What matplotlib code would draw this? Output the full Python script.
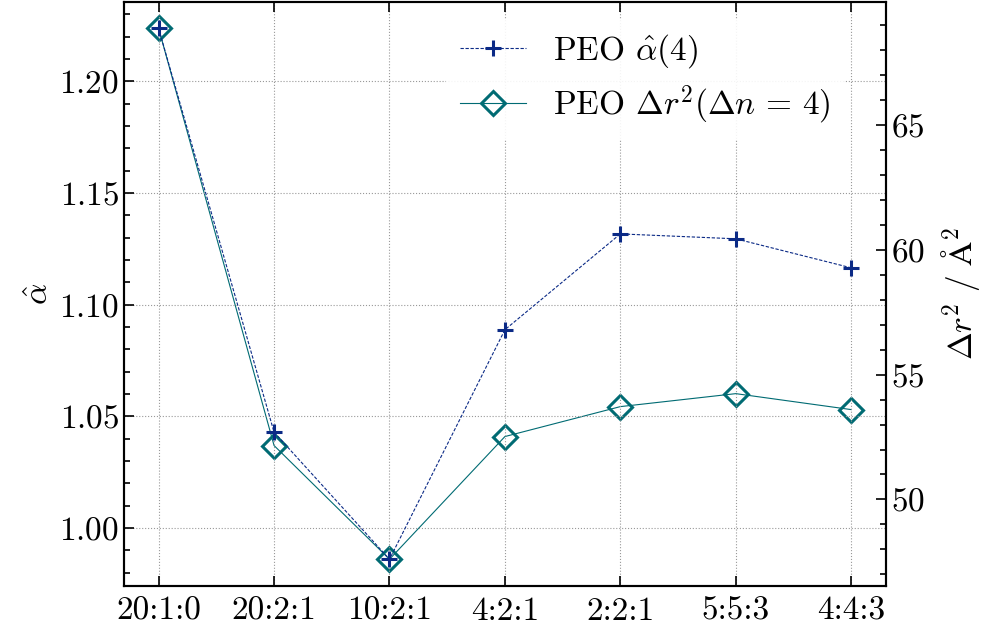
import numpy as np
import matplotlib
matplotlib.use("Agg")
import matplotlib.pyplot as plt

plt.rcParams["font.family"] = "serif"
plt.rcParams["font.serif"] = ["cmr10"]
plt.rcParams["mathtext.fontset"] = "cm"
plt.rcParams["axes.formatter.use_mathtext"] = True
plt.rcParams["axes.unicode_minus"] = False

# data
ratios = ["20:1:0", "20:2:1", "10:2:1", "4:2:1", "2:2:1", "5:5:3", "4:4:3"]
alpha_hat = [1.2237, 1.0429, 0.986, 1.0888, 1.1317, 1.1295, 1.1165]
delta_r2 = [68.88, 52.16, 47.6, 52.52, 53.72, 54.24, 53.6]

c_alpha = "#0b2a86"
c_r2 = "#006b73"
fs = 24

fig, ax1 = plt.subplots(figsize=(9.92, 6.34), dpi=100)
fig.subplots_adjust(left=0.125, right=0.893, top=0.997, bottom=0.076)
ax2 = ax1.twinx()

x = np.arange(len(ratios))
l2, = ax2.plot(x, delta_r2, color=c_r2, lw=0.8, ls="-", marker="D", ms=12,
               mfc="none", mec=c_r2, mew=2.2,
               label=r"PEO $\Delta r^2(\Delta n\,=\,4)$")
l1, = ax1.plot(x, alpha_hat, color=c_alpha, lw=0.8, ls="--", dashes=(3, 1.5),
               marker="+", ms=12, mew=2.2, label=r"PEO $\hat{\alpha}(4)$")

ax1.set_zorder(ax2.get_zorder() + 1)
ax1.patch.set_visible(False)

ax1.set_xticks(x)
ax1.set_xticklabels(ratios)
ax1.set_xlim(-0.3, 6.3)
ax1.set_yticks([1.00, 1.05, 1.10, 1.15, 1.20])
ax1.yaxis.set_minor_locator(plt.MultipleLocator(0.01))
ax2.set_yticks([50, 55, 60, 65])
ax2.yaxis.set_minor_locator(plt.MultipleLocator(1))

ax1.tick_params(axis="both", which="both", direction="in", labelsize=fs,
                top=True, right=False, width=1.2)
ax1.tick_params(which="major", length=7)
ax1.tick_params(which="minor", length=4)
ax1.tick_params(axis="x", pad=8)
ax2.tick_params(axis="y", which="both", direction="in", labelsize=fs, width=1.2)
ax2.tick_params(which="major", length=7)
ax2.tick_params(which="minor", length=4)

for ax in (ax1, ax2):
    for s in ax.spines.values():
        s.set_linewidth(1.5)

ax1.grid(True, ls=":", color="#999999", lw=0.8)

ax1.set_ylabel(r"$\hat{\alpha}$", fontsize=fs)
ax2.set_ylabel(r"$\Delta r^2\ /\ \mathrm{Å}^2$", fontsize=fs, labelpad=10)

leg = ax1.legend(handles=[l1, l2], loc="upper right", fontsize=fs,
                 bbox_to_anchor=(0.958, 0.988),
                 frameon=True, fancybox=False, edgecolor="none", framealpha=0.9,
                 handlelength=2.0, borderaxespad=0.3, labelspacing=0.4)

fig.savefig("out.png", dpi=100)
